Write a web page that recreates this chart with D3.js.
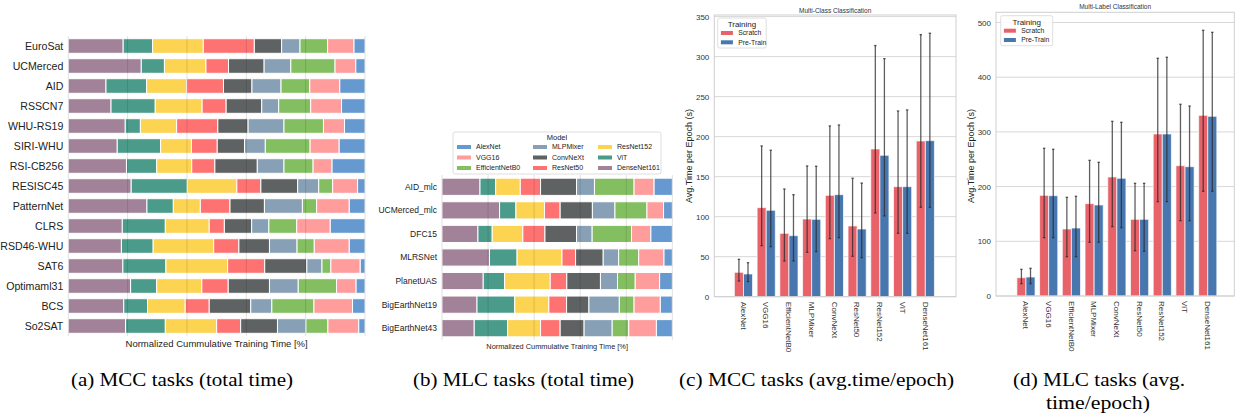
<!DOCTYPE html>
<html lang="en">
<head>
  <meta charset="UTF-8" />
  <title>Training time comparison</title>
  <script src="https://d3js.org/d3.v7.min.js"></script>
  <style>
    body { margin: 0; background: #fff; }
    svg { display: block; font-family: "Liberation Sans", Arial, sans-serif; }
    .caption { font-family: "Liberation Serif", "Times New Roman", serif; font-size: 18px; fill: #000; }
  </style>
</head>
<body>

<svg width="1240" height="417"></svg>

<script>
  // Models (legend order) and stacking order (left to right in the bars)
  const models = ["AlexNet", "VGG16", "EfficientNetB0", "MLPMixer", "ConvNeXt", "ResNet50", "ResNet152", "ViT", "DenseNet161"];
  const stackModels = ["DenseNet161", "ViT", "ResNet152", "ResNet50", "ConvNeXt", "MLPMixer", "EfficientNetB0", "VGG16", "AlexNet"];

  // (a) share of cumulative training time per MCC dataset, in stackModels order [%]
  const mccTasks = ["EuroSat", "UCMerced", "AID", "RSSCN7", "WHU-RS19", "SIRI-WHU", "RSI-CB256", "RESISC45",
                    "PatternNet", "CLRS", "RSD46-WHU", "SAT6", "Optimaml31", "BCS", "So2SAT"];
  const mccShares = [
    [18.5, 9.9, 17.1, 17.2, 9.2, 6.2, 9.3, 8.9, 3.7],
    [24.6, 7.8, 14.0, 7.6, 12.0, 9.0, 14.9, 7.0, 3.1],
    [12.7, 13.7, 13.5, 12.4, 9.6, 9.8, 9.7, 10.1, 8.5],
    [14.4, 14.9, 15.8, 8.1, 12.0, 5.7, 10.8, 10.4, 7.9],
    [19.2, 5.1, 12.2, 13.9, 10.2, 12.1, 13.3, 7.1, 6.9],
    [16.5, 14.6, 10.4, 8.7, 9.2, 7.0, 15.1, 9.8, 8.7],
    [19.6, 10.2, 11.8, 7.8, 14.3, 9.0, 9.8, 6.4, 11.1],
    [21.2, 18.9, 16.7, 8.1, 12.4, 7.1, 4.7, 8.4, 2.5],
    [26.5, 8.9, 9.1, 10.0, 11.6, 12.8, 4.8, 11.0, 5.3],
    [18.2, 14.5, 14.8, 5.1, 9.2, 5.8, 9.4, 11.3, 11.7],
    [17.9, 10.7, 20.4, 8.5, 10.3, 9.3, 5.8, 11.8, 5.3],
    [18.4, 14.5, 20.8, 12.5, 14.2, 5.1, 3.0, 9.9, 1.6],
    [21.0, 8.8, 15.2, 8.9, 13.9, 9.7, 12.9, 6.6, 3.0],
    [18.7, 8.0, 12.7, 8.1, 14.0, 7.1, 14.2, 13.0, 4.2],
    [19.3, 13.4, 17.3, 8.1, 12.4, 9.6, 7.4, 10.4, 2.1]
  ];

  // (b) same for MLC datasets
  const mlcTasks = ["AID_mlc", "UCMerced_mlc", "DFC15", "MLRSNet", "PlanetUAS", "BigEarthNet19", "BigEarthNet43"];
  const mlcShares = [
    [16.5, 6.8, 10.7, 8.8, 15.6, 7.8, 17.2, 8.7, 7.9],
    [25.0, 7.1, 12.4, 6.8, 14.0, 9.8, 13.9, 7.2, 3.8],
    [15.6, 6.2, 13.3, 9.6, 13.7, 6.8, 17.1, 8.4, 9.3],
    [20.6, 12.0, 19.5, 5.9, 12.0, 6.7, 8.7, 11.0, 3.6],
    [17.9, 9.3, 19.8, 7.2, 14.6, 7.4, 7.7, 10.6, 5.5],
    [15.2, 16.4, 14.8, 7.7, 9.7, 13.2, 6.4, 11.4, 5.2],
    [14.0, 14.5, 14.3, 8.5, 10.4, 12.2, 7.2, 12.0, 6.9]
  ];

  // (c) MCC average time per epoch [s], models order
  const mccScratch     = [30.5, 111.3, 79.2, 97.1, 126.7, 88.4, 184.6, 137.5, 194.6];
  const mccScratchLo   = [19.6, 63.8, 44.6, 55.5, 72.5, 50.5, 104.6, 79.2, 111.7];
  const mccScratchHi   = [46.7, 188.4, 134.6, 163.4, 213.4, 148.0, 313.8, 232.1, 327.5];
  const mccPretrain    = [28.4, 108.0, 76.3, 96.7, 127.5, 84.6, 176.7, 137.5, 195.0];
  const mccPretrainLo  = [18.8, 62.5, 44.6, 56.3, 73.8, 48.8, 100.9, 79.2, 111.7];
  const mccPretrainHi  = [42.5, 183.0, 127.5, 163.0, 214.6, 142.0, 297.5, 233.4, 329.2];

  // (d) MLC average time per epoch [s]
  const mlcScratch     = [33.5, 184.0, 122.5, 168.8, 217.6, 140.2, 296.2, 238.2, 330.3];
  const mlcScratchLo   = [22.5, 106.6, 71.9, 98.2, 126.7, 82.8, 172.4, 137.7, 191.4];
  const mlcScratchHi   = [48.8, 270.0, 180.4, 248.0, 319.3, 206.0, 434.5, 350.5, 485.7];
  const mlcPretrain    = [34.7, 183.4, 124.3, 166.4, 215.2, 140.2, 296.2, 236.4, 328.5];
  const mlcPretrainLo  = [22.5, 106.6, 71.9, 98.2, 124.9, 81.7, 172.4, 137.7, 191.4];
  const mlcPretrainHi  = [50.6, 268.2, 182.3, 244.4, 317.5, 206.0, 436.4, 347.3, 482.0];

  const pctTicks = [0, 20, 40, 60, 80, 100];
  const mccTicks = [0, 50, 100, 150, 200, 250, 300, 350];
  const mlcTicks = [0, 100, 200, 300, 400, 500];
  const captions = ["(a) MCC tasks (total time)", "(b) MLC tasks (total time)", "(c) MCC tasks (avg.time/epoch)"];

  const svg = d3.select("svg");

  const modelColor = d3.scaleOrdinal()
    .domain(models)
    .range(["#6699cf", "#ff9c9c", "#83bf60", "#87a0b5", "#5f6262", "#ff7272", "#fdd352", "#4b9b8b", "#a28299"]);

  // ---------- stacked horizontal bars (a, b) ----------
  function stackedPanel(tasks, shares, box) {
    const g = svg.append("g");
    const x = d3.scaleLinear().domain([0, 100]).range([box.x0, box.x1]);
    const y = d3.scaleBand().domain(tasks).range([box.y0, box.y1]).paddingInner(0.27).paddingOuter(0.135);

    tasks.forEach((t, i) => {
      let acc = 0;
      const segs = shares[i].map((v, j) => {
        const s = {model: stackModels[j], start: acc, end: acc + v};
        acc += v;
        return s;
      });
      g.selectAll(null)
        .data(segs)
        .enter()
        .append("rect")
        .attr("x", d => x(d.start))
        .attr("y", y(t))
        .attr("width", d => Math.max(0, x(Math.min(d.end, 100)) - x(d.start)))
        .attr("height", y.bandwidth())
        .attr("fill", d => modelColor(d.model))
        .attr("stroke", "#fff")
        .attr("stroke-width", 1);
    });

    // vertical grid drawn on top, faint
    g.selectAll(null)
      .data(pctTicks)
      .enter()
      .append("line")
      .attr("x1", d => x(d)).attr("x2", d => x(d))
      .attr("y1", box.y0).attr("y2", box.y1)
      .attr("stroke", "#000")
      .attr("stroke-opacity", 0.12)
      .attr("stroke-width", 1);

    g.selectAll(null)
      .data(tasks)
      .enter()
      .append("text")
      .attr("x", box.x0 - 5)
      .attr("y", d => y(d) + y.bandwidth() / 2)
      .attr("dy", "0.35em")
      .attr("text-anchor", "end")
      .attr("font-size", box.labelSize)
      .attr("fill", "#222")
      .text(d => d);

    g.append("text")
      .attr("x", (box.x0 + box.x1) / 2)
      .attr("y", box.y1 + box.titleGap)
      .attr("text-anchor", "middle")
      .attr("font-size", box.titleSize)
      .attr("fill", "#222")
      .text("Normalized Cummulative Training Time [%]");
    return g;
  }

  stackedPanel(mccTasks, mccShares, {x0: 68.3, x1: 365, y0: 36, y1: 336, labelSize: 10.6, titleSize: 9.5, titleGap: 11});
  stackedPanel(mlcTasks, mlcShares, {x0: 442, x1: 672.3, y0: 175, y1: 340, labelSize: 8.5, titleSize: 7.4, titleGap: 9});

  // legend of panel b
  const lg = svg.append("g");
  lg.append("rect")
    .attr("x", 453).attr("y", 132).attr("width", 208).attr("height", 42)
    .attr("rx", 2).attr("fill", "#fff").attr("fill-opacity", 0.85)
    .attr("stroke", "#d6d6d6").attr("stroke-width", 0.8);
  lg.append("text")
    .attr("x", 557).attr("y", 137).attr("dy", "0.35em")
    .attr("text-anchor", "middle").attr("font-size", 7.5).attr("fill", "#222")
    .text("Model");
  const colX = [457, 533, 598];
  const rowY = [147, 157.5, 168];
  models.forEach((m, i) => {
    const cx = colX[Math.floor(i / 3)], cy = rowY[i % 3];
    lg.append("rect").attr("x", cx).attr("y", cy - 2).attr("width", 14).attr("height", 4).attr("fill", modelColor(m));
    lg.append("text").attr("x", cx + 19).attr("y", cy).attr("dy", "0.35em")
      .attr("font-size", 7).attr("fill", "#222").text(m);
  });

  // ---------- grouped bars with error bars (c, d) ----------
  function groupedPanel(box, yMax, ticks, scratch, sLo, sHi, pre, pLo, pHi, title) {
    const g = svg.append("g");
    const x = d3.scaleBand().domain(models).range([box.b0, box.b1]).padding(0);
    const y = d3.scaleLinear().domain([0, yMax]).range([box.bottom, box.top]);
    const bw = x.bandwidth() * 0.4;

    // horizontal grid
    g.selectAll(null)
      .data(ticks)
      .enter()
      .append("line")
      .attr("x1", box.left).attr("x2", box.right)
      .attr("y1", d => y(d)).attr("y2", d => y(d))
      .attr("stroke", "#d8d8d8").attr("stroke-width", 1);

    g.append("g")
      .attr("transform", `translate(${box.left - 2},0)`)
      .call(d3.axisLeft(y).tickValues(ticks).tickSize(0).tickPadding(3))
      .call(a => a.select(".domain").remove())
      .call(a => a.selectAll("text").attr("font-size", 8).attr("fill", "#333").attr("font-family", "Liberation Sans, Arial, sans-serif"));

    const rows = models.map((m, i) => [
      {m, side: 0, v: scratch[i], lo: sLo[i], hi: sHi[i], c: "#e8626a"},
      {m, side: 1, v: pre[i], lo: pLo[i], hi: pHi[i], c: "#4877b0"}
    ]).flat();

    g.selectAll(null)
      .data(rows)
      .enter()
      .append("rect")
      .attr("x", d => x(d.m) + x.bandwidth() * 0.1 + d.side * bw)
      .attr("y", d => y(d.v))
      .attr("width", bw)
      .attr("height", d => y(0) - y(d.v))
      .attr("fill", d => d.c)
      .attr("stroke", "#fff")
      .attr("stroke-opacity", 0.7)
      .attr("stroke-width", 1);

    const cx = d => x(d.m) + x.bandwidth() * 0.1 + d.side * bw + bw / 2;
    g.selectAll(null)
      .data(rows)
      .enter()
      .append("line")
      .attr("x1", cx).attr("x2", cx)
      .attr("y1", d => y(d.lo)).attr("y2", d => y(d.hi))
      .attr("stroke", "#2a2a2a").attr("stroke-opacity", 0.75).attr("stroke-width", 1.3);
    ["lo", "hi"].forEach(k => {
      g.selectAll(null)
        .data(rows)
        .enter()
        .append("line")
        .attr("x1", d => cx(d) - 1.2).attr("x2", d => cx(d) + 1.2)
        .attr("y1", d => y(d[k])).attr("y2", d => y(d[k]))
        .attr("stroke", "#2a2a2a").attr("stroke-opacity", 0.75).attr("stroke-width", 1.3);
    });

    // frame
    g.append("rect")
      .attr("x", box.left).attr("y", box.top)
      .attr("width", box.right - box.left).attr("height", box.bottom - box.top)
      .attr("fill", "none").attr("stroke", "#cfcfcf").attr("stroke-width", 1);

    // rotated category labels
    g.selectAll(null)
      .data(models)
      .enter()
      .append("text")
      .attr("transform", d => `translate(${x(d) + x.bandwidth() / 2},${box.bottom + 5}) rotate(90)`)
      .attr("dy", "0.35em")
      .attr("font-size", 8)
      .attr("fill", "#333")
      .text(d => d);

    g.append("text")
      .attr("transform", `translate(${box.ylabX},${156}) rotate(-90)`)
      .attr("text-anchor", "middle")
      .attr("font-size", 9)
      .attr("fill", "#222")
      .text("Avg.Time per Epoch (s)");

    g.append("text")
      .attr("x", (box.left + box.right) / 2)
      .attr("y", box.titleY)
      .attr("text-anchor", "middle")
      .attr("font-size", 6.5)
      .attr("fill", "#333")
      .text(title);

    // legend
    const L = box.legend;
    g.append("rect")
      .attr("x", L.x).attr("y", L.y).attr("width", L.w).attr("height", 30)
      .attr("rx", 2).attr("fill", "#fff").attr("fill-opacity", 0.85)
      .attr("stroke", "#d6d6d6").attr("stroke-width", 0.8);
    g.append("text")
      .attr("x", L.x + L.w / 2).attr("y", L.y + 6).attr("dy", "0.35em")
      .attr("text-anchor", "middle").attr("font-size", 8).attr("fill", "#222")
      .text("Training");
    [["Scratch", "#e8626a"], ["Pre-Train", "#4877b0"]].forEach(([lab, c], i) => {
      const yy = L.y + 15 + i * 9.3;
      g.append("rect").attr("x", L.x + 3.2).attr("y", yy - 2).attr("width", 12).attr("height", 4).attr("fill", c);
      g.append("text").attr("x", L.x + 20.5).attr("y", yy).attr("dy", "0.35em")
        .attr("font-size", 6.8).attr("fill", "#222").text(lab);
    });
  }

  groupedPanel({left: 714.3, right: 956, top: 15, bottom: 296.7, b0: 732.1, b1: 936.7, ylabX: 692, titleY: 12.5,
                legend: {x: 717.7, y: 18, w: 48.5}},
               352, mccTicks, mccScratch, mccScratchLo, mccScratchHi, mccPretrain, mccPretrainLo, mccPretrainHi,
               "Multi-Class Classification");
  groupedPanel({left: 996, right: 1234.3, top: 12.3, bottom: 296, b0: 1014.6, b1: 1219.1, ylabX: 974, titleY: 9,
                legend: {x: 1000.7, y: 15.7, w: 52}},
               518.6, mlcTicks, mlcScratch, mlcScratchLo, mlcScratchHi, mlcPretrain, mlcPretrainLo, mlcPretrainHi,
               "Multi-Label Classification");

  // ---------- sub-figure captions ----------
  const capX = [182, 523.5, 816.5];
  const capW = [222, 221, 275];
  captions.forEach((c, i) => {
    svg.append("text")
      .attr("class", "caption")
      .attr("x", capX[i] - capW[i] / 2).attr("y", 386)
      .attr("textLength", capW[i]).attr("lengthAdjust", "spacingAndGlyphs")
      .text(c);
  });
  svg.append("text").attr("class", "caption")
    .attr("x", 1099 - 86).attr("y", 386).attr("textLength", 172).attr("lengthAdjust", "spacingAndGlyphs")
    .text("(d) MLC tasks (avg.");
  svg.append("text").attr("class", "caption")
    .attr("x", 1098 - 52).attr("y", 409).attr("textLength", 104).attr("lengthAdjust", "spacingAndGlyphs")
    .text("time/epoch)");
</script>

</body>
</html>
